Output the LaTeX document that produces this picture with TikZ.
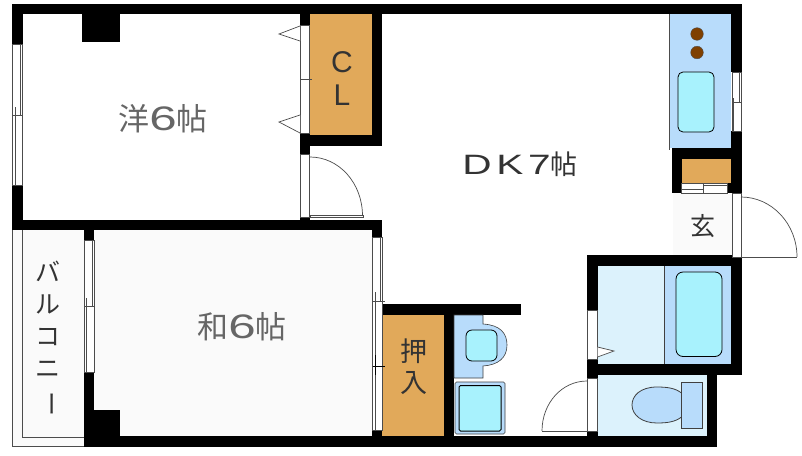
\documentclass[tikz,border=0pt]{standalone}
\usepackage{fontspec}
\setmainfont{Liberation Sans}
\newfontfamily\jp{Noto Sans CJK JP}
\newfontfamily\wide[FakeStretch=1.45]{Liberation Sans}
\definecolor{closet}{HTML}{E1A95A}
\definecolor{fix}{HTML}{B8DCFB}
\definecolor{water}{HTML}{A8F2FD}
\definecolor{wet}{HTML}{DCF2FC}
\definecolor{burner}{HTML}{7F4000}
\definecolor{pale}{HTML}{FAFAFA}
\tikzset{
  wall/.style={fill=black,draw=none},
  floorp/.style={fill=pale,draw=none},
  thin line/.style={draw=black!70,line width=0.7pt},
  win/.style={fill=white,draw=black!70,line width=0.7pt},
  fixture/.style={fill=fix,draw=black!75,line width=0.6pt},
  basin/.style={fill=water,draw=black,line width=0.8pt,rounded corners=5pt},
  label/.style={inner sep=0pt,text=black!60},
  darklabel/.style={inner sep=0pt,text=black!80},
}
\begin{document}
\begin{tikzpicture}[x=1pt,y=-1pt]
\useasboundingbox[fill=white] (0,0) rectangle (802,455);
% floors
\fill[pale] (94,230) rectangle (372,436);
\fill[pale] (12,230) rectangle (84,446.5);
\fill[pale] (673,193) rectangle (732,256);
\fill[closet] (310,14) rectangle (372,135);
\fill[closet] (382,315) rectangle (443.5,436);
\fill[closet] (682,159) rectangle (731,183);
\fill[wet] (597.5,266) rectangle (664,364);
\fill[wet] (597.5,374) rectangle (707,436);
% balcony outline
\draw[thin line] (84,446.5) -- (12,446.5) -- (12,230);
\draw[thin line] (22,230) -- (22,437) -- (84,437);
% walls
\fill[wall] (12,4) rectangle (741.7,14);
\fill[wall] (12,4) rectangle (22.5,44);
\fill[wall] (12,185) rectangle (22.5,230);
\fill[wall] (12,219.5) rectangle (382,230);
\fill[wall] (82,14) rectangle (120,42);
\fill[wall] (300,14) rectangle (310,25);
\fill[wall] (300,133) rectangle (310,154);
\fill[wall] (300,135) rectangle (382,146);
\fill[wall] (372,14) rectangle (382,146);
\fill[wall] (300,217) rectangle (310,220);
\fill[wall] (731,14) rectangle (741.7,72);
\fill[wall] (731,131) rectangle (741.7,193);
\fill[wall] (671.5,148) rectangle (741.7,159);
\fill[wall] (671.5,148) rectangle (682,193);
\fill[wall] (727,183) rectangle (741.7,193);
\fill[wall] (84,230) rectangle (94,240);
\fill[wall] (84,372) rectangle (94,446.5);
\fill[wall] (84,410) rectangle (120,437);
\fill[wall] (84,436) rectangle (717,446.5);
\fill[wall] (372,230) rectangle (382,237);
\fill[wall] (372,430) rectangle (382,446);
\fill[wall] (382,304) rectangle (520.5,315);
\fill[wall] (443.5,304) rectangle (454,446);
\fill[wall] (587.3,255.3) rectangle (741.7,266);
\fill[wall] (587.3,255.3) rectangle (597.5,310);
\fill[wall] (587.3,359) rectangle (597.5,378);
\fill[wall] (587.3,364) rectangle (741.7,374.7);
\fill[wall] (731,255.3) rectangle (741.7,374.7);
\fill[wall] (707,364) rectangle (717,446.5);
\fill[wall] (587.3,431) rectangle (597.5,446);
% windows and sliding doors
\draw[win] (12.7,44) rectangle (22.5,185);
\draw[thin line] (20,44) -- (20,115.7) (15,107) -- (15,185) (12.7,115.7) -- (22.5,115.7);
\draw[win] (84.3,240) rectangle (94.3,372);
\draw[thin line] (92,240) -- (92,306) (86.5,298) -- (86.5,372) (84.3,306) -- (94.3,306);
\draw[win] (372.5,237) rectangle (382,430);
\draw[thin line] (380,237) -- (380,301) (375.5,292) -- (375.5,430) (372.5,301) -- (385,301);
\draw[black,line width=1pt] (372.5,366) -- (385,366) (375.5,355) -- (375.5,375);
\draw[win] (732,72) rectangle (741.5,131);
\draw[thin line] (739,72) -- (739,102) (733.5,98) -- (733.5,131) (732,102) -- (741.5,102);
\draw[win] (681,183.5) rectangle (727,193);
\draw[thin line] (681,189) -- (703,189) (703,185) -- (727,185) (703,183.5) -- (703,193);
\draw[win] (300.5,25) rectangle (309.5,133);
\draw[thin line] (300,79) -- (312,79);
\draw[win] (300.5,154) rectangle (309.5,217);
\draw[win] (732,193) rectangle (741.5,257);
\draw[win] (587.8,310) rectangle (597,359);
\draw[win] (587.8,378) rectangle (597,431);
% door handles
\draw[fill=white,thin line] (300,26) -- (279,34) -- (300,41);
\draw[fill=white,thin line] (300,115) -- (279,122) -- (300,133);
\draw[fill=white,thin line] (597.5,347) -- (614,351) -- (597.5,357);
% door swings
\draw[thin line] (310,157) .. controls (339,157) and (362.5,183) .. (362.5,216);
\draw[fill=white,thin line] (310,215.5) rectangle (363,217);
\draw[thin line] (741,197) .. controls (772,197) and (797,224) .. (797,257);
\draw[thin line] (741,257) -- (797,257);
\draw[thin line] (587,381) .. controls (562,381) and (542,403) .. (542,431);
\draw[thin line] (542,431) -- (587,431);
% kitchen
\fill[fix] (669,14) rectangle (731,148);
\draw[black!70,line width=0.8pt] (669,14) -- (669,150);
\fill[burner,draw=black!70,line width=0.4pt] (697,34) circle[radius=6.3];
\fill[burner,draw=black!70,line width=0.4pt] (697,52.5) circle[radius=6.3];
\draw[basin] (678,72) rectangle (714,132);
% bath
\fill[fix] (664,266) rectangle (731,364);
\draw[black!75,line width=0.7pt] (664,266) -- (664,364);
\draw[basin,rounded corners=7pt] (676,272) rectangle (722,356.5);
% wash basin
\draw[fixture] (454,315) -- (483,315) -- (483,324) .. controls (500,325) and (507,333) .. (507,345)
  .. controls (507,358) and (498,365) .. (483,366) -- (483,378) -- (454,378) -- cycle;
\draw[basin,rounded corners=6pt] (466,330) rectangle (497,361);
% washing machine
\draw[fixture,rounded corners=1.5pt] (455,382) rectangle (505,434);
\draw[fill=water,draw=black,line width=1pt,rounded corners=1.5pt] (459,385.5) rectangle (501,431);
% toilet
\draw[fixture,line width=0.8pt] (681.5,393) .. controls (675,388) and (667,387) .. (657,387)
  .. controls (640,387) and (632,396) .. (632,405) .. controls (632,415) and (642,423) .. (657,423)
  .. controls (667,423) and (675,422) .. (681.5,417) -- cycle;
\draw[fixture,line width=0.8pt] (681.5,382) rectangle (702,428.5);
% labels
\node[label,font=\jp\fontsize{31}{31}\selectfont] (yo) at (163,119) {洋{\wide\fontsize{34}{34}\selectfont 6}帖};
\node[label,font=\jp\fontsize{31}{31}\selectfont] (wa) at (242,327) {和{\wide\fontsize{34}{34}\selectfont 6}帖};
\node[darklabel,font=\wide\fontsize{28}{28}\selectfont] (dk) at (520,164) {D\,K\,7{\jp\fontsize{27}{27}\selectfont 帖}};
\node[darklabel,font=\fontsize{30}{33}\selectfont,align=center] (cl) at (342,79) {C\\L};
\node[darklabel,font=\jp\fontsize{27}{31}\selectfont,align=center] (os) at (414,367) {押\\入};
\node[darklabel,font=\jp\fontsize{25}{25}\selectfont] (gen) at (703,226) {玄};
\node[darklabel,font=\jp\fontsize{25}{32}\selectfont,align=center] (bal) at (48,339) {バ\\ル\\コ\\ニ\\\rotatebox[origin=c]{-90}{ー}};
\end{tikzpicture}
\end{document}
